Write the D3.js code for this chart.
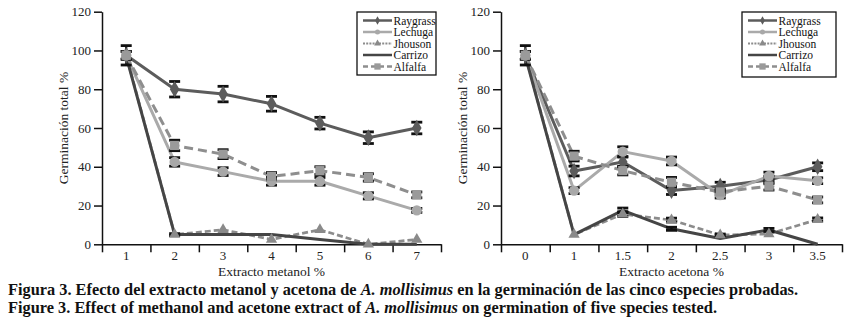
<!DOCTYPE html>
<html><head><meta charset="utf-8">
<script src="https://cdn.jsdelivr.net/npm/d3@7"></script>
<style>
html,body{margin:0;padding:0;background:#fff;}
svg{display:block;}
svg text{font-family:"Liberation Serif","Times New Roman","DejaVu Serif",serif !important;}
</style></head>
<body>
<script>
// ---------- DATA ----------
const seriesNames = ["Raygrass","Lechuga","Jhouson","Carrizo","Alfalfa"];
const yTicks = [0,20,40,60,80,100,120];

const catMetanol = ["1","2","3","4","5","6","7"];
const metRaygrass = [97.5,80,77.5,72.5,62.5,55,60];
const metLechuga  = [97.5,42.5,37.5,32.5,32.5,25,17.5];
const metJhouson  = [97.5,5,7.5,2.5,7.5,0,2.5];
const metCarrizo  = [97,5,5,5,2.5,0,0];
const metAlfalfa  = [97.5,51,46.5,35,38,34.5,25.5];
const errMetRaygrass = [5,4,4,3.8,3,3,3];
const errMetLechuga  = [2,2.2,2,2,2,1.6,1];
const errMetJhouson  = [0,0,0,0,0,0,0];
const errMetCarrizo  = [0,0.5,0,0,0,0,0];
const errMetAlfalfa  = [2,2.7,2.3,2,2,1.9,1.5];

const catAcetona = ["0","1","1.5","2","2.5","3","3.5"];
const aceRaygrass = [97.5,37.8,42.5,27.7,30,33.2,40];
const aceLechuga  = [97.5,27.7,47.8,43,25.4,35.2,32.8];
const aceJhouson  = [97.5,5,15.6,12.5,4.8,5.3,12.8];
const aceCarrizo  = [97,5,17.5,8,3,7.4,0];
const aceAlfalfa  = [97.5,45.5,38,32,27,30,22.9];
const errAceRaygrass = [5,2.5,2.5,2,2,2,2];
const errAceLechuga  = [2,1.5,2.5,2,1.5,2,1.5];
const errAceJhouson  = [0,0,1.2,1,0.5,0,0.8];
const errAceCarrizo  = [0,0,1.2,0.8,0,0.8,0];
const errAceAlfalfa  = [2,2.5,2.2,2.5,1.5,2,1.5];

// ---------- STYLES ----------
const FONT = '"Liberation Serif","Times New Roman",serif';
const styles = {
  Raygrass:{color:"#5c5c5c", dash:null, width:3, marker:"diamond", mcolor:"#5c5c5c"},
  Lechuga: {color:"#aaaaaa", dash:null, width:3, marker:"circle", mcolor:"#a8a8a8"},
  Jhouson: {color:"#8c8c8c", dash:"6,3", width:2.7, marker:"triangle", mcolor:"#8a8a8a"},
  Carrizo: {color:"#454545", dash:null, width:3, marker:null, mcolor:null},
  Alfalfa: {color:"#8e8e8e", dash:"9,5", width:3, marker:"square", mcolor:"#9a9a9a"}
};
const symMap = {diamond:d3.symbolDiamond, circle:d3.symbolCircle, triangle:d3.symbolTriangle, square:d3.symbolSquare};

const W=849,H=325;
const svg = d3.select("body").append("svg").attr("width",W).attr("height",H)
  .attr("font-family",FONT);

function panel(cfg){
  const g = svg.append("g");
  const y = d3.scaleLinear().domain([0,120]).range([244.3,11.7]);
  const xb = d3.scaleBand().domain(cfg.cats).range([cfg.x0,cfg.x1]);
  const xl = d3.scaleLinear().domain([0,cfg.cats.length]).range([cfg.x0,cfg.x1]);
  const cx = c => xb(c)+xb.bandwidth()/2;

  // y axis
  const ya = g.append("g").attr("transform",`translate(${cfg.x0},0)`)
    .call(d3.axisLeft(y).tickValues(yTicks).tickSize(8).tickSizeOuter(0).tickPadding(3));
  ya.attr("font-family",FONT);
  ya.select(".domain").attr("stroke","#111").attr("stroke-width",1.5);
  ya.selectAll(".tick line").attr("stroke","#111").attr("stroke-width",1.5);
  ya.selectAll(".tick text").attr("font-size",13).attr("fill","#222").attr("font-family",FONT);

  // x axis: ticks at band boundaries
  const xa = g.append("g").attr("transform",`translate(0,244.3)`)
    .call(d3.axisBottom(xl).tickValues(d3.range(cfg.cats.length+1)).tickFormat("").tickSize(8).tickSizeOuter(0));
  xa.select(".domain").attr("stroke","#111").attr("stroke-width",1.5);
  xa.selectAll(".tick line").attr("stroke","#111").attr("stroke-width",1.5);
  const xlab = g.append("g").attr("transform",`translate(0,244.3)`)
    .call(d3.axisBottom(xb).tickSize(0).tickPadding(6));
  xlab.attr("font-family",FONT);
  xlab.select(".domain").remove();
  xlab.selectAll(".tick text").attr("font-size",13).attr("fill","#222").attr("font-family",FONT);

  // titles
  g.append("text").attr("x",(cfg.x0+cfg.x1)/2).attr("y",276).attr("text-anchor","middle")
    .attr("font-family",FONT).attr("font-size",13.5).attr("fill","#222").text(cfg.xTitle);
  g.append("text").attr("transform",`translate(${cfg.x0-34},128) rotate(-90)`)
    .attr("font-family",FONT).attr("text-anchor","middle").attr("font-size",13.5).attr("fill","#222").text("Germinación total %");

  const line = d3.line().x((d,i)=>cx(cfg.cats[i])).y(d=>y(d));

  // lines
  seriesNames.forEach(name=>{
    const s = styles[name];
    g.append("path").datum(cfg.vals[name]).attr("d",line).attr("fill","none")
      .attr("stroke",s.color).attr("stroke-width",s.width)
      .attr("stroke-dasharray",s.dash).attr("stroke-linejoin","round");
  });
  // error bars
  seriesNames.forEach(name=>{
    const v = cfg.vals[name], e = cfg.errs[name];
    const eg = g.append("g").attr("stroke","#111").attr("stroke-width",2.2);
    v.forEach((val,i)=>{
      if(!e[i]) return;
      const X = cx(cfg.cats[i]);
      eg.append("line").attr("x1",X).attr("x2",X).attr("y1",y(val-e[i])).attr("y2",y(val+e[i]));
      eg.append("line").attr("x1",X-5.5).attr("x2",X+5.5).attr("y1",y(val+e[i])).attr("y2",y(val+e[i])).attr("stroke-width",2.8);
      eg.append("line").attr("x1",X-5.5).attr("x2",X+5.5).attr("y1",y(val-e[i])).attr("y2",y(val-e[i])).attr("stroke-width",2.8);
    });
  });
  // markers
  seriesNames.forEach(name=>{
    const s = styles[name];
    if(!s.marker) return;
    const sz = s.marker==="triangle"?55:(s.marker==="diamond"?80:85);
    g.append("g").selectAll("path").data(cfg.vals[name]).join("path")
      .attr("transform",(d,i)=>`translate(${cx(cfg.cats[i])},${y(d)})`)
      .attr("d",d3.symbol(symMap[s.marker]).size(sz)).attr("fill",s.mcolor);
  });

  // legend
  const L = cfg.legend;
  const lg = g.append("g");
  lg.append("rect").attr("x",L.x).attr("y",L.y).attr("width",L.w).attr("height",L.h)
    .attr("fill","#fff").attr("stroke","#111").attr("stroke-width",1.3);
  seriesNames.forEach((name,i)=>{
    const s = styles[name];
    const yy = L.y+8.5+i*11.5;
    const lx0 = L.x+6, lx1 = L.x+35;
    lg.append("line").attr("x1",lx0).attr("x2",lx1).attr("y1",yy).attr("y2",yy)
      .attr("stroke",s.color).attr("stroke-width",s.width-0.5).attr("stroke-dasharray",
        s.dash ? (name==="Alfalfa"?"5,3":"2,1.2") : null);
    if(s.marker){
      lg.append("path").attr("transform",`translate(${(lx0+lx1)/2},${yy})`)
        .attr("d",d3.symbol(symMap[s.marker]).size(name==="Alfalfa"?40:20)).attr("fill",s.mcolor);
    }
    lg.append("text").attr("x",lx1+1.5).attr("y",yy+4).attr("font-family",FONT)
      .attr("font-size",11.5).attr("fill","#111").text(name);
  });
}

function vals(a,b,c,d,e){return {Raygrass:a,Lechuga:b,Jhouson:c,Carrizo:d,Alfalfa:e};}

panel({x0:102,x1:441,cats:catMetanol,xTitle:"Extracto metanol %",
  vals:vals(metRaygrass,metLechuga,metJhouson,metCarrizo,metAlfalfa),
  errs:vals(errMetRaygrass,errMetLechuga,errMetJhouson,errMetCarrizo,errMetAlfalfa),
  legend:{x:357,y:12,w:79,h:63}});
panel({x0:501,x1:842,cats:catAcetona,xTitle:"Extracto acetona %",
  vals:vals(aceRaygrass,aceLechuga,aceJhouson,aceCarrizo,aceAlfalfa),
  errs:vals(errAceRaygrass,errAceLechuga,errAceJhouson,errAceCarrizo,errAceAlfalfa),
  legend:{x:742,y:12,w:94,h:65}});

// caption
const c1 = svg.append("text").attr("x",8).attr("y",295).attr("font-family",FONT).attr("font-size",16.5).attr("font-weight","bold")
  .attr("fill","#111").attr("textLength",790).attr("lengthAdjust","spacingAndGlyphs");
c1.append("tspan").text("Figura 3. Efecto del extracto metanol y acetona de ");
c1.append("tspan").attr("font-style","italic").text("A. mollisimus");
c1.append("tspan").text(" en la germinación de las cinco especies probadas.");
const c2 = svg.append("text").attr("x",8).attr("y",313).attr("font-family",FONT).attr("font-size",16.5).attr("font-weight","bold")
  .attr("fill","#111").attr("textLength",709).attr("lengthAdjust","spacingAndGlyphs");
c2.append("tspan").text("Figure 3. Effect of methanol and acetone extract of ");
c2.append("tspan").attr("font-style","italic").text("A. mollisimus");
c2.append("tspan").text(" on germination of five species tested.");
</script>
</body></html>
